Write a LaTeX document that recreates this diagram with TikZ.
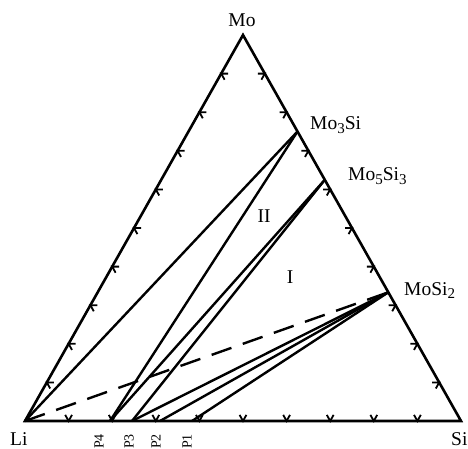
\documentclass[tikz,border=0pt]{standalone}
\usepackage{fontspec}
\setmainfont{Liberation Serif}
\usetikzlibrary{calc}
\newcommand\sbs[1]{\raisebox{-0.2em}{\fontsize{15}{15}\selectfont#1}}
\tikzset{
  edge/.style={line width=2.6pt,line join=miter},
  tie/.style={line width=2.4pt},
  tieline/.style={tie,dash pattern=on 21pt off 12pt},
  tick/.style={line width=1.8pt},
  phase/.style={inner sep=0pt,font=\fontsize{19.5}{22}\selectfont},
  run/.style={inner sep=0pt,rotate=90,anchor=east,font=\fontsize{14}{16}\selectfont},
}
\begin{document}
\begin{tikzpicture}[x=1pt,y=-1pt]
  \useasboundingbox (0,0) rectangle (468,449);
  \coordinate (Li) at (25,421);
  \coordinate (Si) at (461,421);
  \coordinate (Mo) at (243,35);
  \coordinate (m31) at (297.5,131.5);
  \coordinate (m53) at (324.8,179.8);
  \coordinate (m12) at (388.3,292.3);
  \coordinate (p4) at (110,421);
  \coordinate (p3) at (132,421);
  \coordinate (p2) at (160,421);
  \coordinate (p1) at (192,421);
  % triangle and 10% ticks
  \draw[edge] (Li)--(Mo)--(Si)--cycle;
  \foreach \i in {1,...,9}{
    \draw[tick] ($(Li)!\i/10!(Si)+(3.4,-6.1)$) -- ($(Li)!\i/10!(Si)$) -- ++(-3.4,-6.1);
    \draw[tick] ($(Li)!\i/10!(Mo)+(7,0)$) -- ($(Li)!\i/10!(Mo)$) -- ++(3.4,6.1);
    \draw[tick] ($(Si)!\i/10!(Mo)+(-7,0)$) -- ($(Si)!\i/10!(Mo)$) -- ++(-3.4,6.1);
  }
  % tie lines
  \draw[tie] (Li)--(m31);
  \draw[tie] (p4)--(m31);
  \draw[tie] (p4)--(m53);
  \draw[tie] (p3)--(m53);
  \draw[tie] (p3)--(m12);
  \draw[tie] (p2)--(m12);
  \draw[tie] (p1)--(m12);
  \draw[tieline] (Li)--(m12);
  % labels
  \node[phase,anchor=base] (nMo) at (242,27){Mo};
  \node[phase,anchor=base west] (nLi) at (10,445){Li};
  \node[phase,anchor=base west] (nSi) at (451,445){Si};
  \node[phase,anchor=base west] (n31) at (310,130){Mo\sbs{3}Si};
  \node[phase,anchor=base west] (n53) at (348,181){Mo\sbs{5}Si\sbs{3}};
  \node[phase,anchor=base west] (n12) at (404,295){MoSi\sbs{2}};
  \node[phase,anchor=base] (rII) at (264,222){II};
  \node[phase,anchor=base] (rI) at (290,283){I};
  \node[run] (l4) at (99,434){P4};
  \node[run] (l3) at (129,434){P3};
  \node[run] (l2) at (156,434){P2};
  \node[run] (l1) at (187,434){P1};
\end{tikzpicture}
\end{document}
